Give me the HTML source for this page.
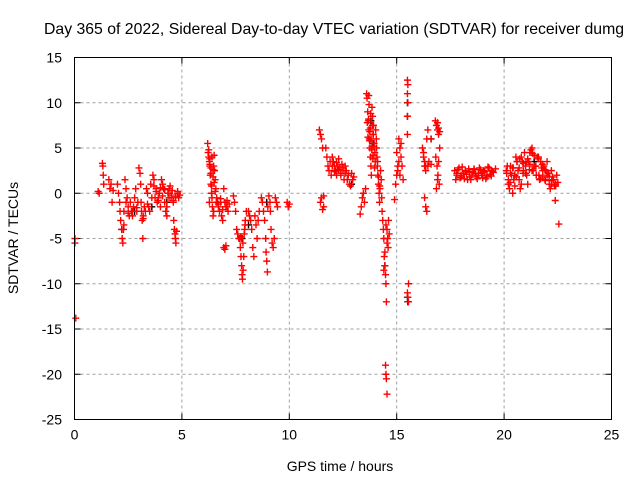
<!DOCTYPE html>
<html><head><meta charset="utf-8"><style>
html,body{margin:0;padding:0;background:#fff;}
svg{display:block;font-family:"Liberation Sans",sans-serif;}
</style></head><body>
<svg id="chart" width="640" height="480" viewBox="0 0 640 480">
<rect x="0" y="0" width="640" height="480" fill="#fff"/>
<text x="44" y="34" font-size="15.8" fill="#000">Day 365 of 2022, Sidereal Day-to-day VTEC variation (SDTVAR) for receiver dumg</text>
<text x="340" y="471" font-size="14" text-anchor="middle">GPS time / hours</text>
<text transform="translate(18,238) rotate(-90)" font-size="14" text-anchor="middle">SDTVAR / TECUs</text>
<g id="grid"></g>
<g id="ticks"></g>
<g id="marks"></g>
<rect x="74.5" y="57.5" width="537" height="362" fill="none" stroke="#000" stroke-width="1"/>
</svg>
<script>
const xTicks=[0,5,10,15,20,25];
const yTicks=[15,10,5,0,-5,-10,-15,-20,-25];
const redHours=[0.02,0.02,0.06,1.1,1.15,1.3,1.32,1.34,1.36,1.6,1.65,1.7,1.75,1.8,
2.0,2.05,2.1,2.12,2.15,2.2,2.22,2.25,2.28,2.3,2.35,2.4,2.45,2.5,2.55,
2.6,2.65,2.7,2.75,2.8,2.85,2.9,2.95,3.0,3.05,3.08,3.1,3.12,3.15,3.18,3.2,3.25,3.3,
3.35,3.4,3.45,3.5,3.55,3.6,3.65,3.7,3.75,3.8,3.85,3.9,3.95,4.0,
4.05,4.1,4.15,4.2,4.25,4.3,4.35,4.4,4.45,4.5,4.55,4.6,4.62,4.65,4.68,4.7,4.72,4.75,4.8,4.85,4.9,
3.7,3.8,3.9,4.0,4.1,4.2,4.3,4.4,4.5,4.6,4.7,4.8,2.3,2.4,2.5,2.7,2.9,3.2,3.4,
6.2,6.22,6.25,6.28,6.3,6.32,6.35,6.38,6.4,6.42,6.45,6.48,6.5,6.52,6.55,6.58,6.6,6.3,6.35,6.45,
6.25,6.3,6.35,6.4,6.45,6.5,6.55,6.28,6.38,6.48,
6.62,6.65,6.7,6.75,6.8,6.85,6.9,6.95,7.0,7.05,7.1,7.15,7.2,6.95,7.0,7.05,6.7,6.8,6.9,7.1,
7.4,7.45,7.5,7.55,7.6,7.65,7.7,7.72,7.75,7.78,7.8,7.82,7.85,7.88,7.9,7.92,7.95,8.0,7.74,7.84,7.94,
8.1,8.15,8.2,8.25,8.3,8.35,8.4,8.45,8.5,8.55,8.6,
8.7,8.75,8.8,8.85,8.9,8.92,8.95,8.98,9.0,9.05,9.1,9.12,9.15,9.2,9.25,9.3,9.35,9.4,9.45,9.9,9.95,10.0,
11.4,11.45,11.5,11.55,11.6,11.45,11.5,11.55,11.6,
11.7,11.75,11.8,11.85,11.9,11.95,12.0,12.05,12.1,12.15,12.2,12.25,12.3,12.35,12.4,12.45,12.5,12.55,12.6,
12.0,12.1,12.2,12.3,12.4,12.5,12.6,
12.65,12.7,12.75,12.8,12.85,12.9,12.95,13.0,
13.3,13.35,13.4,13.45,13.5,13.55,
13.6,13.62,13.65,13.68,13.7,13.72,13.75,13.78,13.8,13.82,13.85,13.88,13.9,13.92,13.95,13.98,14.0,13.7,13.75,13.85,13.9,
13.63,13.66,13.69,13.71,13.74,13.77,13.79,13.81,13.84,13.87,13.89,13.91,13.94,13.97,
14.02,14.05,14.08,14.1,14.12,14.15,14.18,14.2,14.22,14.25,14.28,14.3,14.06,14.11,14.16,14.21,
14.32,14.35,14.38,14.4,14.42,14.45,14.48,14.5,14.52,14.55,14.58,14.6,14.62,14.65,14.4,14.45,14.5,14.55,
14.48,14.5,14.52,14.55,
14.9,14.95,15.0,15.05,15.1,15.15,15.2,15.25,15.3,15.0,15.1,15.2,15.05,15.15,
15.5,15.52,15.5,15.52,15.5,15.5,15.55,15.5,15.52,15.55,
16.2,16.25,16.3,16.35,16.4,16.45,16.5,16.3,16.35,16.4,16.45,16.6,16.6,16.25,16.3,16.35,
16.8,16.85,16.9,16.95,17.0,16.82,16.88,16.92,16.98,16.85,16.9,16.95,17.0,16.9,16.95,
17.7,17.8,17.9,18.0,18.1,18.2,18.3,18.4,18.5,18.6,18.7,18.8,18.9,19.0,19.1,19.2,19.3,19.4,19.5,
17.75,17.85,17.95,18.05,18.15,18.25,18.35,18.45,18.55,18.65,18.75,18.85,18.95,19.05,19.15,19.25,19.35,19.45,
17.8,18.0,18.2,18.4,18.6,18.8,19.0,19.2,19.4,19.6,
20.1,20.2,20.3,20.4,20.5,20.6,20.7,20.8,20.9,21.0,21.1,21.2,21.3,21.4,21.5,21.6,21.7,21.8,21.9,22.0,22.1,22.2,22.3,22.4,22.5,
20.15,20.25,20.35,20.45,20.55,20.65,20.75,20.85,20.95,21.05,21.15,21.25,21.35,21.45,21.55,21.65,21.75,21.85,21.95,22.05,22.15,22.25,22.35,22.45,
20.2,20.4,20.6,20.8,21.0,21.2,21.4,21.6,21.8,22.0,22.2,22.4,20.3,20.5,20.7,20.9,21.1,21.3,21.5,21.7,21.9,22.1,
20.12,20.28,20.42,20.58,20.72,20.88,21.02,21.18,21.32,21.48,21.62,21.78,21.92,22.08,22.22,22.38,
22.55,22.85];
const redValues=[-5.5,-5.0,-13.8,0.2,0.0,3.3,3.0,2.0,1.0,1.5,0.5,1.0,-1.0,0.3,
1.0,0.0,-1.0,-2.0,-3.0,-4.0,-5.0,-5.5,-4.0,-2.0,1.5,0.5,-0.5,-1.5,-2.5,
-1.0,-2.0,-2.5,-1.5,-0.5,0.5,-2.0,-1.0,2.8,2.2,1.0,-1.0,-2.0,-3.0,-5.0,-2.5,-1.5,-2.0,
0.5,0.0,-1.5,-2.0,1.0,-0.5,2.0,1.5,-0.5,0.5,-1.0,-0.5,0.0,-1.5,
1.5,1.0,0.5,-1.0,-2.0,-2.5,0.0,-0.5,0.8,-0.5,0.3,-1.0,-3.0,-4.0,-4.5,-5.0,-5.5,-4.2,0.0,-0.5,-0.2,
0.8,0.2,-0.8,0.6,-0.3,0.4,-1.5,0.5,-0.2,-0.8,-0.4,0.2,-3.5,-1.0,-2.2,-2.0,-1.6,-2.8,-1.2,
5.5,4.5,4.0,3.5,3.0,2.0,1.0,0.0,-0.5,-1.5,-2.5,3.0,4.2,2.5,1.5,0.5,-1.0,3.8,2.8,1.8,
4.8,3.2,2.2,4.0,2.6,1.2,0.2,-1.0,0.8,-2.0,
-0.5,-1.0,-1.5,-2.0,-1.0,-2.5,-3.0,0.5,-1.0,-1.5,-0.8,-2.0,-1.2,-6.0,-6.2,-5.8,-1.2,-0.6,-1.8,-1.5,
-0.3,-1.0,-2.0,-4.0,-4.5,-5.0,-5.0,-6.0,-7.0,-8.0,-9.0,-9.5,-8.5,-7.0,-4.5,-4.0,-3.0,-2.0,-4.8,-5.5,-3.5,
-2.0,-2.5,-3.0,-4.0,-6.0,-7.0,-2.5,-3.5,-5.0,-3.0,-2.0,
-0.5,-1.0,-2.0,-3.0,-5.0,-6.5,-7.5,-8.7,-1.5,-0.3,-1.0,-2.0,-4.0,-5.5,-6.0,-5.0,-0.5,-1.0,-1.5,-1.0,-1.5,-1.2,
7.0,6.5,6.0,5.0,-1.5,-1.0,-0.5,-1.8,-0.3,
5.0,4.0,3.0,2.5,3.5,2.0,4.0,3.5,3.0,2.5,2.0,3.0,3.8,2.8,2.2,3.2,2.5,1.5,3.0,
3.0,2.4,3.4,2.6,2.0,2.8,2.2,
2.5,1.5,2.0,1.0,0.8,2.2,1.5,1.8,
-2.3,-1.5,-0.5,0.0,-1.0,0.5,
11.0,10.5,9.0,8.0,7.0,6.0,5.0,4.0,3.0,2.0,9.5,8.5,6.5,7.5,5.5,4.5,3.5,10.8,6.8,5.2,4.2,
7.8,6.2,8.2,9.8,5.8,7.2,8.8,6.0,4.8,7.5,3.8,6.5,5.2,2.8,
7.0,6.0,4.0,3.0,2.0,1.0,0.0,-1.0,0.5,2.5,1.5,-0.5,5.0,3.5,1.8,0.8,
-2.0,-3.0,-4.0,-5.0,-7.0,-8.0,-9.0,-10.0,-12.0,-4.0,-5.0,-6.0,-3.0,-4.5,-8.5,-6.5,-3.5,-5.5,
-19.0,-20.0,-20.5,-22.2,
-0.7,1.0,2.0,2.5,3.5,5.0,4.0,3.0,1.5,4.5,6.0,5.5,3.0,2.0,
12.5,12.0,11.0,10.0,8.5,6.5,-10.0,-11.0,-11.5,-12.0,
5.0,4.0,3.0,2.5,6.0,7.0,3.5,-0.5,-1.5,-2.0,3.0,6.0,3.2,4.5,3.5,3.0,
8.0,7.5,7.0,6.5,5.0,4.0,3.0,2.0,1.0,0.5,7.8,7.2,6.8,1.5,3.5,
2.5,2.0,2.8,1.8,2.2,2.5,1.5,2.3,2.0,2.7,1.8,2.2,2.6,1.7,2.4,2.0,2.8,1.9,2.3,
1.5,2.6,1.7,2.9,1.6,2.1,2.7,1.5,2.4,2.2,1.6,2.8,2.0,2.5,1.6,2.9,2.1,2.4,
2.2,2.0,2.4,1.8,2.6,2.0,2.3,1.8,2.5,2.7,
2.5,1.0,3.0,0.0,2.0,3.5,1.5,4.0,2.5,3.0,1.0,4.5,5.0,3.0,2.0,4.0,3.5,2.5,1.5,2.0,1.0,2.5,1.5,1.0,1.2,
3.0,0.5,2.0,1.5,4.0,2.5,0.5,3.5,4.5,2.0,3.5,4.8,2.5,3.0,4.0,1.5,2.8,3.0,2.5,2.2,0.5,1.8,0.8,2.0,
1.5,2.8,3.5,1.0,2.2,3.2,4.2,3.8,1.8,3.5,1.0,0.8,2.2,0.8,2.8,3.3,3.8,2.5,2.0,1.6,2.6,
1.8,2.2,1.2,2.8,1.8,3.8,2.2,3.4,2.6,4.4,3.0,2.0,3.2,1.4,2.2,1.4,
-0.8,-3.4];
const blackHours=[2.2,2.8,3.6,4.3,7.8,8.1,8.95,12.9,13.8,13.9,14.45,15.5,15.5,15.5,15.52,16.6,20.5,21.4];
const blackValues=[-4.0,-2.0,-1.5,-1.0,-5.0,-3.5,-1.0,1.0,8.0,5.5,-8.0,10.0,8.5,-11.5,-12.0,6.0,2.0,3.5];

const X0=74.5,X1=611.5,Y0=57.5,Y1=419.5;
const xScale=v=>X0+(v-0)/(25-0)*(X1-X0);
const yScale=v=>Y1-(v-(-25))/(15-(-25))*(Y1-Y0);
const NS="http://www.w3.org/2000/svg";
const grid=document.getElementById('grid'),ticks=document.getElementById('ticks'),marks=document.getElementById('marks');
function mk(tag,attrs,parent){const e=document.createElementNS(NS,tag);for(const k in attrs)e.setAttribute(k,attrs[k]);parent.appendChild(e);return e;}
xTicks.forEach(t=>{const x=xScale(t);
 if(t>0&&t<25){const g=mk('line',{x1:x,x2:x,y1:Y0,y2:Y1,stroke:'#a0a0a0','stroke-dasharray':'3,3'},grid);
 
 }
 mk('line',{x1:x,x2:x,y1:Y1,y2:Y1-6,stroke:'#000'},ticks);
 mk('line',{x1:x,x2:x,y1:Y0,y2:Y0+6,stroke:'#000'},ticks);
 const l=mk('text',{x:x,y:Y1+20,'font-size':'14','text-anchor':'middle'},ticks);l.textContent=t;
 
 
});
yTicks.forEach(t=>{const y=yScale(t);
 if(t<15&&t>-25){const g=mk('line',{x1:X0,x2:X1,y1:y,y2:y,stroke:'#a0a0a0','stroke-dasharray':'3,3'},grid);
 
 }
 mk('line',{x1:X0,x2:X0+6,y1:y,y2:y,stroke:'#000'},ticks);
 mk('line',{x1:X1,x2:X1-6,y1:y,y2:y,stroke:'#000'},ticks);
 const l=mk('text',{x:62,y:y+5,'font-size':'14','text-anchor':'end'},ticks);l.textContent=t;
 
 
});
function plus(h,v,color,name){const x=xScale(h),y=yScale(v);
 const p=mk('path',{d:`M${x-3.5},${y}H${x+3.5}M${x},${y-3.5}V${y+3.5}`,stroke:color,'stroke-width':'1.4',fill:'none'},marks);
 
 
}
blackHours.forEach((h,i)=>plus(h,blackValues[i],'#000','black-point'));
redHours.forEach((h,i)=>plus(h,redValues[i],'#f00','red-point'));
</script>
</body></html>
